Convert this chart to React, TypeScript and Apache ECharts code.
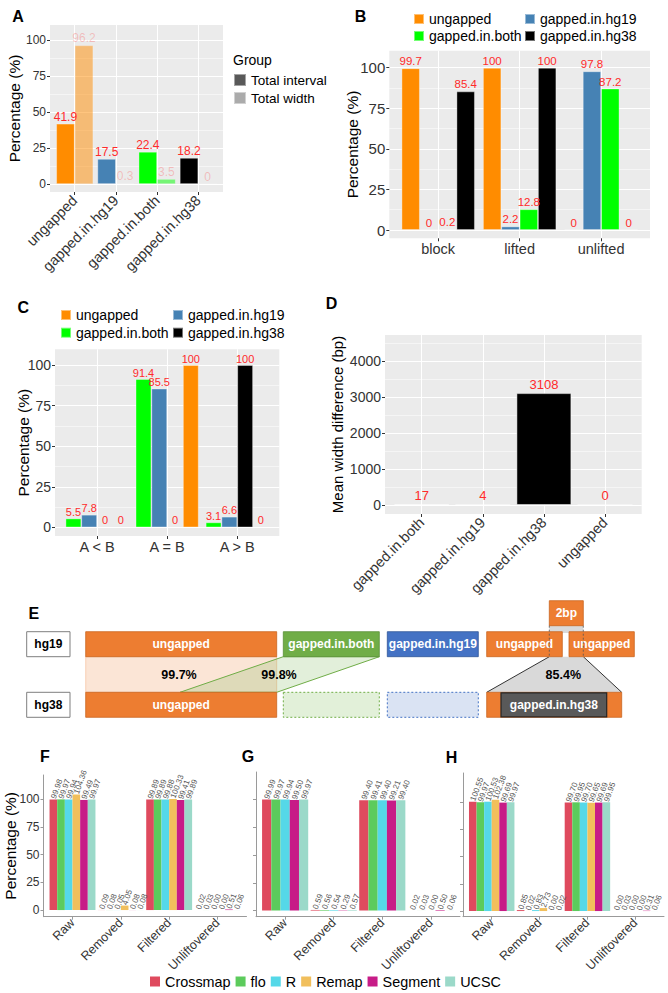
import React, { useEffect, useRef } from 'react';
import * as echarts from 'echarts';

const FONT = '"Liberation Sans", Arial, Helvetica, sans-serif';
const RED = '#FF2A2A';
const RED_FADED = 'rgba(255,42,42,0.5)';

// ---------- Panel A ----------
const catsA = ['ungapped', 'gapped.in.hg19', 'gapped.in.both', 'gapped.in.hg38'];
const groupA = ['Total interval', 'Total width'];
const intervalA = [41.9, 17.5, 22.4, 18.2];
const widthA = [96.2, 0.3, 3.5, 0];

// ---------- Panel B ----------
const catsB = ['block', 'lifted', 'unlifted'];
const ungappedB = [99.7, 100, 0];
const hg19B = [0, 2.2, 97.8];
const bothB = [0.2, 12.8, 87.2];
const hg38B = [85.4, 100, 0];

// ---------- Panel C ----------
const catsC = ['A < B', 'A = B', 'A > B'];
const bothC = [5.5, 91.4, 3.1];
const hg19C = [7.8, 85.5, 6.6];
const hg38C = [0, 0, 100];
const ungappedC = [0, 100, 0];

// ---------- Panel D ----------
const catsD = ['gapped.in.both', 'gapped.in.hg19', 'gapped.in.hg38', 'ungapped'];
const meanDiffD = [17, 4, 3108, 0];

// ---------- Panels F, G, H ----------
const stepsFGH = ['Raw', 'Removed', 'Filtered', 'Unliftovered'];
const methodsAll = ['Crossmap', 'flo', 'R', 'Remap', 'Segment', 'UCSC'];
const methodsF = ['Crossmap', 'flo', 'R', 'Remap', 'Segment', 'UCSC'];
const valuesF = [
  [99.98, 0.09, 99.89, 0.02],
  [99.97, 0.08, 99.89, 0.03],
  [99.94, 0.05, 99.88, 0.0],
  [104.36, 4.05, 100.33, 0.0],
  [99.49, 0.08, 99.41, 0.51],
  [99.97, 0.08, 99.89, 0.06],
];
const methodsG = ['Crossmap', 'flo', 'R', 'Segment', 'UCSC'];
const valuesG = [
  [99.99, 0.59, 99.4, 0.02],
  [99.97, 0.56, 99.41, 0.03],
  [99.94, 0.54, 99.4, 0.0],
  [99.5, 0.29, 99.21, 0.5],
  [99.97, 0.57, 99.4, 0.06],
];
const methodsH = ['Crossmap', 'flo', 'R', 'Remap', 'Segment', 'UCSC'];
const valuesH = [
  [100.55, 0.85, 99.7, 0.0],
  [99.97, 0.02, 99.95, 0.03],
  [100.53, 0.83, 99.7, 0.0],
  [102.38, 2.73, 99.65, 0.0],
  [99.69, 0.0, 99.69, 0.31],
  [99.97, 0.02, 99.95, 0.06],
];

// ---------- Panel E texts ----------
const eGenomes = ['hg19', 'hg38'];
const ePercents = ['99.7%', '99.8%', '85.4%'];

const typeColor: Record<string, string> = {
  ungapped: '#FF8C00',
  'gapped.in.hg19': '#4682B4',
  'gapped.in.both': '#00FF00',
  'gapped.in.hg38': '#000000',
};
const methodColor: Record<string, string> = {
  Crossmap: '#DF4A5E',
  flo: '#5CCB5C',
  R: '#55D8E8',
  Remap: '#F1BF5C',
  Segment: '#C71C87',
  UCSC: '#9BD9C9',
};

function buildOption() {
  const grids: any[] = [];
  const xAxes: any[] = [];
  const yAxes: any[] = [];
  const series: any[] = [];

  function addPanel(c: any) {
    const gi = grids.length;
    grids.push({
      left: c.left, top: c.top, width: c.width, height: c.height,
      show: c.gray, backgroundColor: '#EBEBEB', borderWidth: 0,
      containLabel: false, outerBoundsMode: 'none',
    });
    const ticksX = c.cats.map((_: string, i: number) => i + 1);
    const xi = xAxes.length;
    xAxes.push({
      type: 'value', gridIndex: gi, min: 0.4, max: c.cats.length + 0.6,
      minInterval: 1, maxInterval: 1,
      axisLine: { show: !c.gray, onZero: false, lineStyle: { color: '#9A9A9A', width: 1 } },
      axisTick: { show: true, length: 3, customValues: ticksX, lineStyle: { color: c.gray ? '#333' : '#9A9A9A' } },
      axisLabel: {
        customValues: ticksX,
        formatter: (v: number) => (Number.isInteger(v) ? c.cats[v - 1] ?? '' : ''),
        rotate: c.xRotate, fontSize: c.xLabelSize, color: '#333', margin: c.xMargin,
        fontFamily: FONT, hideOverlap: false,
      },
      splitLine: { show: c.gray, lineStyle: { color: '#FFFFFF', width: 1.1 } },
    });
    const yi = yAxes.length;
    yAxes.push({
      type: 'value', gridIndex: gi, min: c.yMin, max: c.yMax,
      minInterval: c.yStep, maxInterval: c.yStep,
      axisLine: { show: !c.gray, onZero: false, lineStyle: { color: '#9A9A9A', width: 1 } },
      axisTick: { show: true, length: 3, customValues: c.yMajors, lineStyle: { color: c.gray ? '#333' : '#9A9A9A' } },
      axisLabel: {
        show: c.yLabels, customValues: c.yMajors, fontSize: c.yLabelSize,
        color: '#333', margin: 4, fontFamily: FONT,
        formatter: (v: number) => String(v),
      },
      splitLine: { show: c.gray, lineStyle: { color: '#FFFFFF', width: 1.1 } },
      name: c.yTitle || '', nameLocation: 'middle', nameGap: c.yNameGap || 0,
      nameMoveOverlap: false,
      nameTextStyle: { fontSize: c.yTitleSize || 15, color: '#000', fontFamily: FONT },
    });
    if (c.gray) {
      yAxes.push({
        type: 'value', gridIndex: gi, min: c.yMin, max: c.yMax, position: 'right',
        minInterval: c.yStep / 2, maxInterval: c.yStep / 2,
        axisLine: { show: false },
        axisTick: { show: false, customValues: c.yMinors },
        axisLabel: { show: false, customValues: c.yMinors },
        splitLine: { show: true, lineStyle: { color: '#FFFFFF', width: 0.5 } },
      });
    }
    return { xi, yi };
  }

  const borderAD = { borderColor: 'rgba(255,255,255,0.45)', borderWidth: 0.8 };

  function typeSeries(ax: any, name: string, values: number[], width: string, fontSize: number) {
    series.push({
      type: 'bar', name, xAxisIndex: ax.xi, yAxisIndex: ax.yi,
      barWidth: width, barGap: '0%',
      itemStyle: { color: typeColor[name], ...borderAD },
      data: values.map((v, i) => [i + 1, v]),
      label: {
        show: true, position: 'top', distance: 1, color: RED, fontSize, fontFamily: FONT,
        formatter: (p: any) => String(p.value[1]),
      },
    });
  }

  // ----- A -----
  const axA = addPanel({
    left: 50, top: 25, width: 173, height: 167, gray: true, cats: catsA,
    yMin: -5.5, yMax: 110.4, yStep: 25, yMajors: [0, 25, 50, 75, 100], yMinors: [12.5, 37.5, 62.5, 87.5],
    yLabels: true, yLabelSize: 12, yTitle: 'Percentage (%)', yTitleSize: 15.5, yNameGap: 28,
    xRotate: 45, xLabelSize: 14.5, xMargin: 6,
  });
  series.push({
    type: 'bar', name: groupA[0], xAxisIndex: axA.xi, yAxisIndex: axA.yi,
    barWidth: '45%', barGap: '0%',
    itemStyle: { color: '#595959', ...borderAD },
    data: intervalA.map((v, i) => ({ value: [i + 1, v], itemStyle: { color: typeColor[catsA[i]] } })),
    label: {
      show: true, position: 'top', distance: 1, color: RED, fontSize: 12, fontFamily: FONT,
      formatter: (p: any) => String(p.value[1]),
    },
  });
  series.push({
    type: 'bar', name: groupA[1], xAxisIndex: axA.xi, yAxisIndex: axA.yi,
    barWidth: '45%', barGap: '0%',
    itemStyle: { color: '#ABABAB', ...borderAD },
    data: widthA.map((v, i) => ({ value: [i + 1, v], itemStyle: { color: typeColor[catsA[i]], opacity: 0.5 } })),
    label: {
      show: true, position: 'top', distance: 1, color: RED_FADED, fontSize: 12, fontFamily: FONT,
      formatter: (p: any) => String(p.value[1]),
    },
  });

  // ----- B -----
  const axB = addPanel({
    left: 389.3, top: 50.7, width: 260.7, height: 187.6, gray: true, cats: catsB,
    yMin: -5.1, yMax: 110.5, yStep: 25, yMajors: [0, 25, 50, 75, 100], yMinors: [12.5, 37.5, 62.5, 87.5],
    yLabels: true, yLabelSize: 15, yTitle: 'Percentage (%)', yTitleSize: 15.5, yNameGap: 28.5,
    xRotate: 0, xLabelSize: 14.5, xMargin: 3,
  });
  typeSeries(axB, 'ungapped', ungappedB, '22.5%', 11.5);
  typeSeries(axB, 'gapped.in.hg19', hg19B, '22.5%', 11.5);
  typeSeries(axB, 'gapped.in.both', bothB, '22.5%', 11.5);
  typeSeries(axB, 'gapped.in.hg38', hg38B, '22.5%', 11.5);

  // ----- C -----
  const axC = addPanel({
    left: 55, top: 349.3, width: 224.3, height: 186.7, gray: true, cats: catsC,
    yMin: -5.3, yMax: 109.7, yStep: 25, yMajors: [0, 25, 50, 75, 100], yMinors: [12.5, 37.5, 62.5, 87.5],
    yLabels: true, yLabelSize: 14, yTitle: 'Percentage (%)', yTitleSize: 15.5, yNameGap: 24,
    xRotate: 0, xLabelSize: 14.5, xMargin: 3,
  });
  typeSeries(axC, 'gapped.in.both', bothC, '22.5%', 11);
  typeSeries(axC, 'gapped.in.hg19', hg19C, '22.5%', 11);
  typeSeries(axC, 'gapped.in.hg38', hg38C, '22.5%', 11);
  typeSeries(axC, 'ungapped', ungappedC, '22.5%', 11);

  // ----- D -----
  const axD = addPanel({
    left: 385, top: 335, width: 256.7, height: 179, gray: true, cats: catsD,
    yMin: -250, yMax: 4722, yStep: 1000, yMajors: [0, 1000, 2000, 3000, 4000],
    yMinors: [500, 1500, 2500, 3500, 4500],
    yLabels: true, yLabelSize: 14, yTitle: 'Mean width difference (bp)', yTitleSize: 15, yNameGap: 40,
    xRotate: 45, xLabelSize: 14.5, xMargin: 6,
  });
  series.push({
    type: 'bar', name: 'Mean width difference', xAxisIndex: axD.xi, yAxisIndex: axD.yi,
    barWidth: '90%',
    itemStyle: { color: '#000', borderColor: 'rgba(255,255,255,0.5)', borderWidth: 1 },
    data: meanDiffD.map((v, i) => ({ value: [i + 1, v], itemStyle: { color: typeColor[catsD[i]] } })),
    label: {
      show: true, position: 'top', distance: 2, color: RED, fontSize: 13, fontFamily: FONT,
      formatter: (p: any) => String(p.value[1]),
    },
  });

  // ----- F, G, H -----
  function methodPanel(cfg: any, methods: string[], values: number[][]) {
    const ax = addPanel(cfg);
    const w = (95 / methods.length).toFixed(2) + '%';
    methods.forEach((m, k) => {
      series.push({
        type: 'bar', name: m, xAxisIndex: ax.xi, yAxisIndex: ax.yi,
        barWidth: w, barGap: '0%',
        itemStyle: { color: methodColor[m] },
        data: values[k].map((v, i) => [i + 1, v]),
        label: {
          show: true, position: 'top', distance: 1, rotate: 70, align: 'left', verticalAlign: 'middle',
          color: '#555', fontSize: 8, fontFamily: FONT,
          formatter: (p: any) => Number(p.value[1]).toFixed(2),
        },
      });
    });
  }
  const fghBase = {
    gray: false, cats: stepsFGH, yStep: 25, yMajors: [0, 25, 50, 75, 100],
    xRotate: 45, xLabelSize: 12.5, xMargin: 4, yLabelSize: 12,
  };
  methodPanel({
    ...fghBase, left: 43.5, top: 775, width: 203, height: 141.7, yMin: -6, yMax: 122,
    yLabels: true, yTitle: 'Percentage (%)', yTitleSize: 15.5, yNameGap: 25,
  }, methodsF, valuesF);
  methodPanel({
    ...fghBase, left: 256, top: 772, width: 204, height: 144.7, yMin: -5.5, yMax: 124.8,
    yLabels: false,
  }, methodsG, valuesG);
  methodPanel({
    ...fghBase, left: 463, top: 773, width: 201, height: 143.7, yMin: -5.2, yMax: 126.9,
    yLabels: false,
  }, methodsH, valuesH);

  // ----- legends -----
  const legText = (size: number, lh: number) => ({ fontSize: size, lineHeight: lh, color: '#000', fontFamily: FONT });
  const legends = [
    { data: groupA, orient: 'vertical', left: 233, top: 72, itemWidth: 12, itemHeight: 12, itemGap: 2, textStyle: legText(13.5, 16) },
    { data: ['ungapped', 'gapped.in.both'], orient: 'vertical', left: 413, top: 11.5, itemWidth: 10, itemHeight: 10, itemGap: 2, textStyle: legText(14, 15) },
    { data: ['gapped.in.hg19', 'gapped.in.hg38'], orient: 'vertical', left: 524, top: 11.5, itemWidth: 10, itemHeight: 10, itemGap: 2, textStyle: legText(14, 15) },
    { data: ['ungapped', 'gapped.in.both'], orient: 'vertical', left: 60, top: 307.5, itemWidth: 10, itemHeight: 10, itemGap: 2.7, textStyle: legText(14, 15) },
    { data: ['gapped.in.hg19', 'gapped.in.hg38'], orient: 'vertical', left: 172, top: 307.5, itemWidth: 10, itemHeight: 10, itemGap: 2.7, textStyle: legText(14, 15) },
    { data: methodsAll, orient: 'horizontal', left: 150, top: 973, itemWidth: 10, itemHeight: 10, itemGap: 5, textStyle: legText(14.4, 17) },
  ].map((l) => ({ ...l, icon: 'rect', padding: 0, selectedMode: false }));

  // ----- graphics: panel letters, legend title, panel E -----
  const letter = (t: string, x: number, y: number) => ({
    type: 'text', x, y,
    style: { text: t, fill: '#000', font: `bold 16px ${FONT}`, textAlign: 'center', textVerticalAlign: 'middle' },
  });
  const txt = (t: string, x: number, y: number, color: string, bold = true, size = 12, align = 'center') => ({
    type: 'text', x, y, z: 10,
    style: { text: t, fill: color, font: `${bold ? 'bold ' : ''}${size}px ${FONT}`, textAlign: align, textVerticalAlign: 'middle' },
  });
  const rect = (x: number, y: number, w: number, h: number, fill: string, stroke: string, lw = 0.8, dash?: number[]) => ({
    type: 'rect', shape: { x, y, width: w, height: h },
    style: { fill, stroke, lineWidth: lw, lineDash: dash },
  });
  const ORANGE = '#ED7D31', ORANGE_S = '#C9651F';
  const r1 = 631.7, r2 = 692.3, h = 25;
  const eElems: any[] = [
    rect(26.7, r1, 43.3, h, '#FFFFFF', '#7F7F7F', 1),
    rect(26.7, r2, 43.3, h, '#FFFFFF', '#7F7F7F', 1),
    txt(eGenomes[0], 48.3, r1 + h / 2, '#000'),
    txt(eGenomes[1], 48.3, r2 + h / 2, '#000'),
    rect(85.7, r1 + h, 191, r2 - r1 - h, '#FBE5D6', '#F4B183', 0.5),
    {
      type: 'polygon',
      shape: { points: [[283.3, r1 + h], [379.3, r1 + h], [276.7, r2], [180, r2]] },
      style: { fill: 'rgba(112,173,71,0.2)', stroke: '#70AD47', lineWidth: 1 },
    },
    rect(85.7, r1, 191, h, ORANGE, ORANGE_S),
    txt(catsA[0], 181.2, r1 + h / 2, '#FFFFFF'),
    rect(85.7, r2, 191, h, ORANGE, ORANGE_S),
    txt(catsA[0], 181.2, r2 + h / 2, '#FFFFFF'),
    rect(283.3, r1, 96, h, '#70AD47', '#5B8F38'),
    txt(catsA[2], 331.3, r1 + h / 2, '#FFFFFF'),
    rect(283.3, r2, 96, h, '#E2F0D9', '#70AD47', 1, [2, 2]),
    rect(387.3, r1, 91, h, '#4472C4', '#2F5597'),
    txt(catsA[1], 432.8, r1 + h / 2, '#FFFFFF'),
    rect(387.3, r2, 91, h, '#DAE3F3', '#4472C4', 1, [2, 2]),
    { type: 'rect', shape: { x: 549.3, y: 624, width: 34, height: 9 }, style: { fill: '#D9D9D9' } },
    {
      type: 'polygon',
      shape: { points: [[549.3, r1 + h], [583.3, r1 + h], [621.7, r2], [486.7, r2]] },
      style: { fill: '#D9D9D9' },
    },
    { type: 'line', shape: { x1: 549.3, y1: r1 + h, x2: 486.7, y2: r2 }, style: { stroke: '#333', lineWidth: 1 } },
    { type: 'line', shape: { x1: 583.3, y1: r1 + h, x2: 621.7, y2: r2 }, style: { stroke: '#333', lineWidth: 1 } },
    rect(486.7, r1, 75.6, h, ORANGE, ORANGE_S),
    rect(569, r1, 65.3, h, ORANGE, ORANGE_S),
    txt(catsA[0], 524.5, r1 + h / 2, '#FFFFFF'),
    txt(catsA[0], 601.7, r1 + h / 2, '#FFFFFF'),
    rect(549.3, 600.7, 34, h, ORANGE, ORANGE_S),
    txt('2bp', 566.3, 600.7 + h / 2, '#FFFFFF'),
    { type: 'line', z: 11, shape: { x1: 549.3, y1: 625.7, x2: 549.3, y2: r1 + h }, style: { stroke: '#555', lineWidth: 0.8, lineDash: [2, 2] } },
    { type: 'line', z: 11, shape: { x1: 583.3, y1: 625.7, x2: 583.3, y2: r1 + h }, style: { stroke: '#555', lineWidth: 0.8, lineDash: [2, 2] } },
    rect(486.7, r2, 135, h, ORANGE, ORANGE_S),
    rect(501, r2 + 0.5, 105.7, h - 1, '#595959', '#262626', 1.2),
    txt(catsA[3], 553.8, r2 + h / 2, '#FFFFFF'),
    txt(ePercents[0], 179, 675, '#000', true, 12.5),
    txt(ePercents[1], 279, 675, '#000', true, 12.5),
    txt(ePercents[2], 563.3, 675, '#000', true, 12.5),
  ];

  const graphicElems = [
    letter('A', 18, 16),
    letter('B', 360.5, 16),
    letter('C', 23.3, 307),
    letter('D', 331.5, 303),
    letter('E', 33.8, 613.7),
    letter('F', 45, 756),
    letter('G', 248, 756),
    letter('H', 451.5, 757),
    { type: 'text', x: 233, y: 60, style: { text: 'Group', fill: '#000', font: `14px ${FONT}`, textAlign: 'left', textVerticalAlign: 'middle' } },
    ...eElems,
  ];

  return {
    animation: false,
    backgroundColor: '#FFFFFF',
    textStyle: { fontFamily: FONT },
    grid: grids,
    xAxis: xAxes,
    yAxis: yAxes,
    series,
    legend: legends,
    graphic: { elements: graphicElems },
  };
}

export default function App() {
  const ref = useRef<HTMLDivElement>(null);
  useEffect(() => {
    if (!ref.current) return;
    const chart = echarts.init(ref.current, undefined, { renderer: 'svg' });
    chart.setOption(buildOption() as any);
    return () => chart.dispose();
  }, []);
  return (
    <div
      ref={ref}
      style={{ position: 'absolute', left: 0, top: 0, width: 668, height: 993, background: '#FFFFFF' }}
    />
  );
}
